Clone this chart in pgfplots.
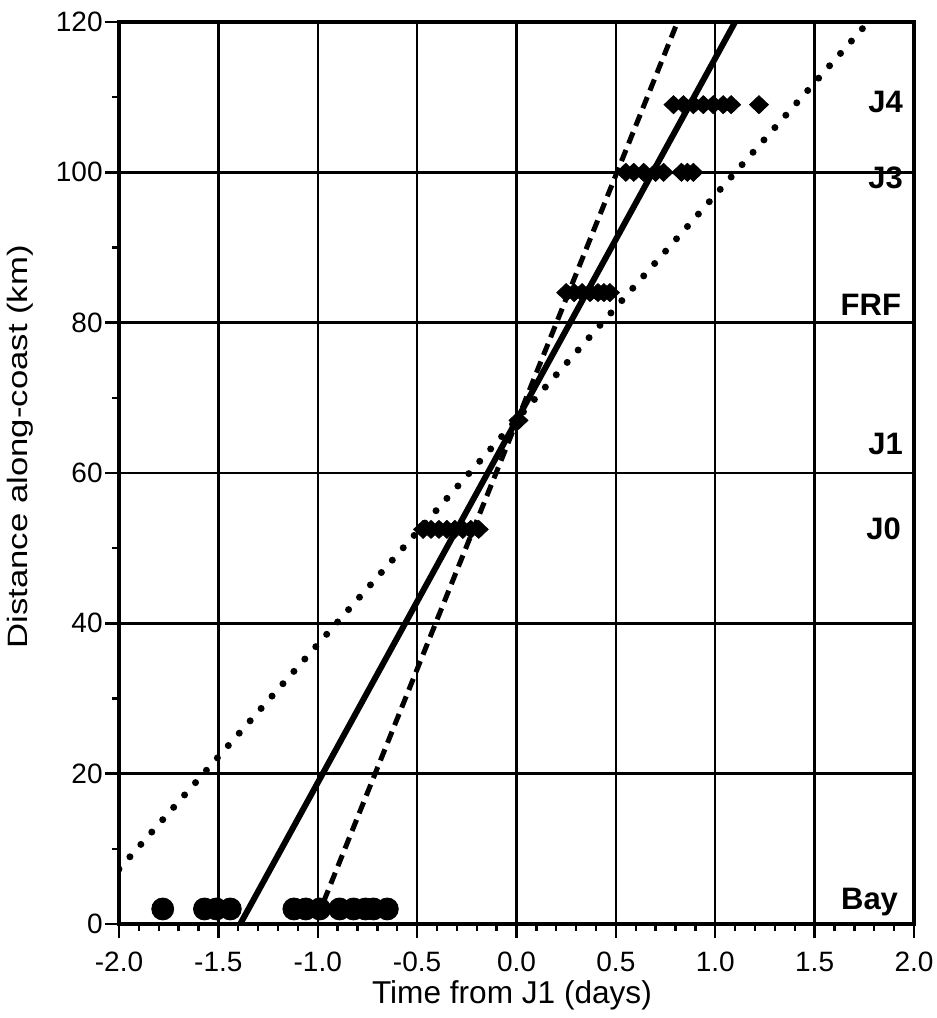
\documentclass[border=0pt]{standalone}
\usepackage{fontspec}
\setmainfont{Liberation Sans}
\usepackage{pgfplots}
\pgfplotsset{compat=1.18}
\begin{document}
\begin{tikzpicture}
\path[use as bounding box] (-59.5pt,-47pt) rectangle (409pt,462pt);
\begin{axis}[
  at={(0pt,0pt)}, anchor=south west,
  scale only axis, width=397.5pt, height=451pt,
  xmin=-2, xmax=2, ymin=0, ymax=120,
  xtick={-2,-1.5,-1,-0.5,0,0.5,1,1.5,2},
  ytick={0,20,40,60,80,100,120},
  minor x tick num=4, minor y tick num=1,
  xtick pos=bottom, ytick pos=left,
  tick align=outside,
  major tick length=7pt, minor tick length=3.5pt,
  every tick/.style={line width=1.2pt, black},
  grid=major,
  major grid style={line width=1.2pt, black},
  axis line style={line width=2pt},
  /pgf/number format/assume math mode=true,
  xticklabel style={/pgf/number format/fixed, /pgf/number format/fixed zerofill, /pgf/number format/precision=1,
    font=\fontsize{14}{14}\selectfont, inner sep=1pt, yshift=-6pt},
  yticklabel style={font=\fontsize{14}{14}\selectfont, inner sep=1pt},
  xlabel={Time from J1 (days)},
  xlabel style={at={(axis description cs:0.4943,-0.0787)}, anchor=center, font=\fontsize{15.8}{15.8}\selectfont},
  ylabel={\scalebox{1.24}[1]{Distance along-coast (km)}},
  ylabel style={at={(axis description cs:-0.1245,0.529)}, anchor=center, font=\fontsize{14}{14}\selectfont},
]
% dotted line
\addplot[black, line width=3.5pt, line cap=round, dash pattern=on 0pt off 8.25pt] coordinates {(-2.0,7.3) (1.77,120)};
% dashed line
\addplot[black, line width=2.5pt, dash pattern=on 6pt off 3.5pt] coordinates {(-0.97,3) (0.81,120)};
% solid line
\addplot[black, line width=3pt] coordinates {(-1.39,0) (1.10,120)};
% Bay circles
\addplot[only marks, mark=*, mark size=5.5pt, black] coordinates {
(-1.78,2) (-1.57,2) (-1.51,2) (-1.44,2)
(-1.12,2) (-1.06,2) (-0.99,2)
(-0.89,2) (-0.82,2) (-0.76,2) (-0.72,2) (-0.65,2)};
% station diamonds
\addplot[only marks, mark=diamond*, mark size=4.5pt, mark options={xscale=1.4}, black] coordinates {
(-0.47,52.5) (-0.43,52.5) (-0.39,52.5) (-0.35,52.5) (-0.31,52.5) (-0.27,52.5) (-0.23,52.5) (-0.19,52.5)
(0.01,67)
(0.25,84) (0.29,84) (0.33,84) (0.37,84) (0.41,84) (0.44,84) (0.47,84)
(0.55,100) (0.59,100) (0.64,100) (0.70,100) (0.74,100) (0.83,100) (0.86,100) (0.89,100)
(0.79,109) (0.84,109) (0.89,109) (0.94,109) (0.99,109) (1.04,109) (1.08,109) (1.22,109)};
\node[anchor=base east, font=\bfseries\fontsize{15.5}{15.5}\selectfont] at (axis cs:1.98,108.0) {J4};
\node[anchor=base east, font=\bfseries\fontsize{15.5}{15.5}\selectfont] at (axis cs:1.98,97.9) {J3};
\node[anchor=base east, font=\bfseries\fontsize{15.5}{15.5}\selectfont] at (axis cs:1.97,81.0) {FRF};
\node[anchor=base east, font=\bfseries\fontsize{15.5}{15.5}\selectfont] at (axis cs:1.98,62.4) {J1};
\node[anchor=base east, font=\bfseries\fontsize{15.5}{15.5}\selectfont] at (axis cs:1.97,51.1) {J0};
\node[anchor=base east, font=\bfseries\fontsize{15.5}{15.5}\selectfont] at (axis cs:1.955,1.9) {Bay};
\end{axis}
\end{tikzpicture}
\end{document}
